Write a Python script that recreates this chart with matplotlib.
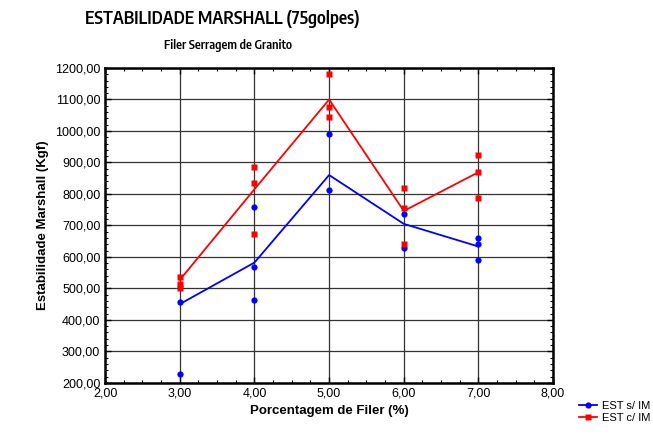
import matplotlib.pyplot as plt
from matplotlib.lines import Line2D
from matplotlib.ticker import FuncFormatter, MultipleLocator

plt.rcParams["font.family"] = ["Liberation Sans", "DejaVu Sans"]
narrow = ["Encode Sans Condensed", "Liberation Sans", "DejaVu Sans"]

# Data
filer = [3, 4, 5, 6, 7]
sem_im_x = [3, 3, 4, 4, 4, 5, 5, 6, 6, 7, 7, 7]
sem_im_y = [456, 229, 760, 569, 463, 990, 812, 735, 628, 659, 640, 590]
sem_im_line = [450, 582, 860, 705, 633]
com_im_x = [3, 3, 3, 4, 4, 4, 5, 5, 5, 6, 6, 6, 7, 7, 7]
com_im_y = [535, 515, 500, 887, 836, 673, 1180, 1077, 1045, 818, 755, 641, 925, 869, 786]
com_im_line = [527, 815, 1100, 746, 869]

fig = plt.figure(figsize=(6.53, 4.36), dpi=100)
ax = fig.add_axes([0.161, 0.122, 0.686, 0.722])

ax.plot(filer, sem_im_line, color="blue", lw=1.3, zorder=3)
ax.plot(sem_im_x, sem_im_y, "o", color="blue", ms=4.5, mec="none", zorder=4)
ax.plot(filer, com_im_line, color="red", lw=1.3, zorder=3)
ax.plot(com_im_x, com_im_y, "s", color="red", ms=4.5, mec="none", zorder=4)

ax.set_xlim(2, 8)
ax.set_ylim(200, 1200)
ax.xaxis.set_major_locator(MultipleLocator(1))
ax.xaxis.set_minor_locator(MultipleLocator(0.25))
ax.yaxis.set_major_locator(MultipleLocator(100))
ax.yaxis.set_minor_locator(MultipleLocator(20))
fmt = FuncFormatter(lambda v, p: f"{v:.2f}".replace(".", ","))
ax.xaxis.set_major_formatter(fmt)
ax.yaxis.set_major_formatter(fmt)
ax.tick_params(which="both", direction="in", top=True, right=True, labelsize=9)
ax.tick_params(which="major", length=4, width=1)
ax.tick_params(which="minor", length=2.5, width=0.8)
ax.grid(True, which="major", color="#333333", lw=0.9)
for s in ax.spines.values():
    s.set_linewidth(1.8)

ax.set_xlabel("Porcentagem de Filer (%)", fontsize=9.5, fontweight="bold")
ax.set_ylabel("Estabilidade Marshall (Kgf)", fontsize=9.5, fontweight="bold")

fig.text(222 / 653, 1 - 19 / 436, "ESTABILIDADE MARSHALL (75golpes)",
         ha="center", va="center", fontsize=12.8, fontweight=600, family=narrow)
fig.text(228 / 653, 1 - 46 / 436, "Filer Serragem de Granito",
         ha="center", va="center", fontsize=9, fontweight=600, family=narrow)

handles = [
    Line2D([], [], color="blue", lw=1.3, marker="o", ms=4.5, mec="none"),
    Line2D([], [], color="red", lw=1.3, marker="s", ms=4.5, mec="none"),
]
fig.legend(handles, ["EST s/ IM", "EST c/ IM"], loc="center left",
           bbox_to_anchor=(0.872, 0.055), frameon=False, fontsize=8,
           handlelength=1.6, labelspacing=0.15, handletextpad=0.4)

plt.savefig("out.png", dpi=100)
